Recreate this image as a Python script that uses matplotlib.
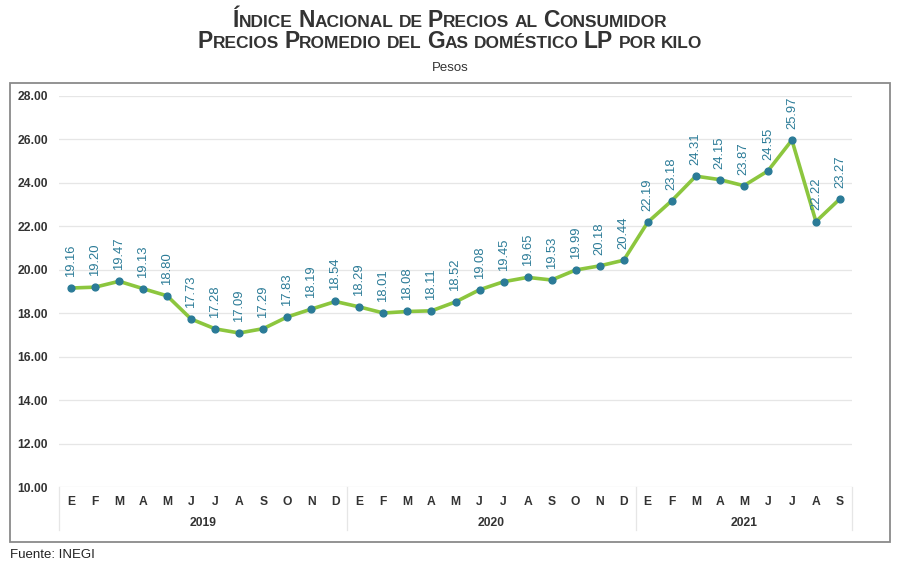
import matplotlib
matplotlib.use("Agg")
import matplotlib.pyplot as plt
import matplotlib.transforms as mtransforms
from matplotlib.patches import Rectangle

# --- datos ---
meses = ["E", "F", "M", "A", "M", "J", "J", "A", "S", "O", "N", "D"]
anios = ["2019", "2020", "2021"]
precios_2019 = [19.16, 19.20, 19.47, 19.13, 18.80, 17.73, 17.28, 17.09, 17.29, 17.83, 18.19, 18.54]
precios_2020 = [18.29, 18.01, 18.08, 18.11, 18.52, 19.08, 19.45, 19.65, 19.53, 19.99, 20.18, 20.44]
precios_2021 = [22.19, 23.18, 24.31, 24.15, 23.87, 24.55, 25.97, 22.22, 23.27]

precios = precios_2019 + precios_2020 + precios_2021
etiquetas = meses * 2 + meses[:len(precios_2021)]
x = list(range(len(precios)))

plt.rcParams['font.family'] = ['Liberation Sans', 'DejaVu Sans']

VERDE = "#8cc63e"
AZUL = "#2b7b97"
GRIS = "#333333"

fig = plt.figure(figsize=(9, 5.72), dpi=100)
ax = fig.add_axes([59 / 900, 1 - 487 / 572, (852 - 59) / 900, (487 - 96) / 572])

# marco exterior
fig.patches.append(Rectangle((10 / 900, 1 - 542 / 572), 880 / 900, (542 - 83) / 572,
                             transform=fig.transFigure, fill=False,
                             edgecolor="#8a8a8a", linewidth=1.3))

ax.plot(x, precios, color=VERDE, linewidth=2.6, zorder=2)
ax.scatter(x, precios, color=AZUL, s=24, zorder=3)
for xi, v in zip(x, precios):
    ax.annotate(f"{v:.2f}", (xi, v), xytext=(0, 8), textcoords="offset points",
                rotation=90, ha="center", va="bottom", fontsize=9.4, color=AZUL)

ax.set_xlim(-0.5, len(precios) - 0.5)
ax.set_ylim(10, 28)
ax.set_yticks(range(10, 29, 2))
ax.set_yticklabels([f"{t:.2f}" for t in range(10, 29, 2)], fontsize=8.7,
                   fontweight="bold", color=GRIS)
ax.tick_params(axis="y", length=0, pad=8)
ax.set_xticks([])
ax.grid(axis="y", color="#e6e6e6", linewidth=0.9)
ax.set_axisbelow(True)
for s in ax.spines.values():
    s.set_visible(False)

# eje de categorias (meses y años)
trans = mtransforms.blended_transform_factory(ax.transData, ax.transAxes)
px = 1 / (487 - 96)
for xi, lab in zip(x, etiquetas):
    ax.text(xi, -15 * px, lab, transform=trans, ha="center", va="center",
            fontsize=8.7, fontweight="bold", color=GRIS)
inicio = 0
for anio, serie in zip(anios, [precios_2019, precios_2020, precios_2021]):
    fin = inicio + len(serie)
    ax.text((inicio + fin - 1) / 2, -36 * px, anio, transform=trans, ha="center",
            va="center", fontsize=8.7, fontweight="bold", color=GRIS)
    inicio = fin
for sep in [-0.5, 11.5, 23.5, len(precios) - 0.5]:
    ax.plot([sep, sep], [0, -43 * px], transform=trans, color="#e6e6e6",
            linewidth=0.9, clip_on=False)


# titulo en versalitas
def versalitas(texto, y_px, grande, chica, color=GRIS):
    renderer = fig.canvas.get_renderer()
    piezas = []
    palabras = texto.split(" ")
    for i, palabra in enumerate(palabras):
        corridas = []
        for c in palabra:
            g = c.isupper()
            if corridas and corridas[-1][1] == g:
                corridas[-1][0] += c
            else:
                corridas.append([c, g])
        for txt, g in corridas:
            t = fig.text(0, 1 - y_px / 572, txt.upper(), fontsize=grande if g else chica,
                         fontweight="bold", color=color, va="baseline", ha="left")
            w = t.get_window_extent(renderer).width
            piezas.append((t, w))
        if i < len(palabras) - 1:
            piezas.append((None, chica * 100 / 72 * 0.3))
    total = sum(w for _, w in piezas)
    xp = 450 - total / 2
    for t, w in piezas:
        if t is not None:
            t.set_x(xp / 900)
        xp += w


versalitas("Índice Nacional de Precios al Consumidor", 27, 16.5, 12.5)
versalitas("Precios Promedio del Gas doméstico LP por kilo", 48, 16.5, 12.5)
fig.text(0.5, 1 - 68 / 572, "Pesos", ha="center", va="center", fontsize=9.5, color=GRIS)
fig.text(10 / 900, 1 - 555 / 572, "Fuente: INEGI", ha="left", va="center",
         fontsize=9.5, color="#222222")

fig.savefig("out.png", dpi=100)
